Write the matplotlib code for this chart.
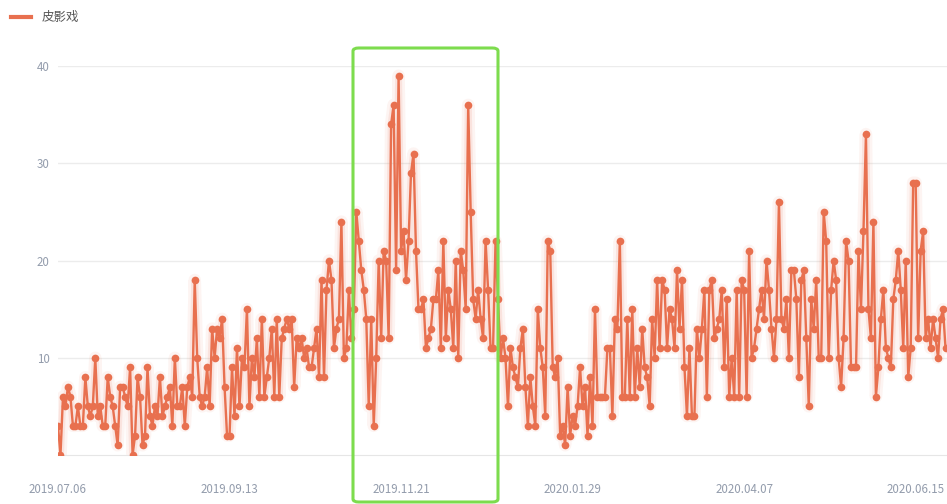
import matplotlib
matplotlib.use("Agg")
import matplotlib.pyplot as plt
from matplotlib.patches import FancyBboxPatch
import numpy as np
import pandas as pd

plt.rcParams['font.family'] = ['Noto Sans CJK SC', 'DejaVu Sans']

# daily counts starting 2019-07-06
series_name = "皮影戏"
start_date = "2019-07-06"
values = [
    3, 0, 6, 5, 7, 6, 3, 3, 5, 3,
    3, 8, 5, 4, 5, 10, 4, 5, 3, 3,
    8, 6, 5, 3, 1, 7, 7, 6, 5, 9,
    0, 2, 8, 6, 1, 2, 9, 4, 3, 5,
    4, 8, 4, 5, 6, 7, 3, 10, 5, 5,
    7, 3, 7, 8, 6, 18, 10, 6, 5, 6,
    9, 5, 13, 10, 13, 12, 14, 7, 2, 2,
    9, 4, 11, 5, 10, 9, 15, 5, 10, 8,
    12, 6, 14, 6, 8, 10, 13, 6, 14, 6,
    12, 13, 14, 13, 14, 7, 12, 11, 12, 10,
    11, 9, 9, 11, 13, 8, 18, 8, 17, 20,
    18, 11, 13, 14, 24, 10, 11, 17, 12, 15,
    25, 22, 19, 17, 14, 5, 14, 3, 10, 20,
    12, 21, 20, 12, 34, 36, 19, 39, 21, 23,
    18, 22, 29, 31, 21, 15, 15, 16, 11, 12,
    13, 16, 16, 19, 11, 22, 12, 17, 15, 11,
    20, 10, 21, 19, 15, 36, 25, 16, 14, 17,
    14, 12, 22, 17, 11, 11, 22, 16, 10, 12,
    10, 5, 11, 9, 8, 7, 11, 13, 7, 3,
    8, 5, 3, 15, 11, 9, 4, 22, 21, 9,
    8, 10, 2, 3, 1, 7, 2, 4, 3, 5,
    9, 5, 7, 2, 8, 3, 15, 6, 6, 6,
    6, 11, 11, 4, 14, 13, 22, 6, 6, 14,
    6, 15, 6, 11, 7, 13, 9, 8, 5, 14,
    10, 18, 11, 18, 17, 11, 15, 14, 11, 19,
    13, 18, 9, 4, 11, 4, 4, 13, 10, 13,
    17, 6, 17, 18, 12, 13, 14, 17, 9, 16,
    6, 10, 6, 17, 6, 18, 17, 6, 21, 10,
    11, 13, 15, 17, 14, 20, 17, 13, 10, 14,
    26, 14, 13, 16, 10, 19, 19, 16, 8, 18,
    19, 12, 5, 16, 13, 18, 10, 10, 25, 22,
    10, 17, 20, 18, 10, 7, 12, 22, 20, 9,
    9, 9, 21, 15, 23, 33, 15, 12, 24, 6,
    9, 14, 17, 11, 10, 9, 16, 18, 21, 17,
    11, 20, 8, 11, 28, 28, 12, 21, 23, 12,
    14, 11, 14, 12, 10, 14, 15, 11,
]
tick_labels = ["2019.07.06", "2019.09.13", "2019.11.21",
               "2020.01.29", "2020.04.07", "2020.06.15"]
y_ticks = [10, 20, 30, 40]

dates = pd.date_range(start_date, periods=len(values), freq="D")
day_idx = np.arange(len(values))
date_str = dates.strftime("%Y.%m.%d")
tick_pos = [int(np.where(date_str == t)[0][0]) for t in tick_labels]

line_color = "#e8704f"
label_color = "#939cac"

fig = plt.figure(figsize=(9.47, 5.04), dpi=100)
ax = fig.add_axes([58 / 947, 1 - 455 / 504, 1 - 58 / 947, (455 - 66) / 504])

# soft glow under the line
ax.plot(day_idx, values, color=line_color, lw=9, alpha=0.07, solid_capstyle="round", zorder=2)
ax.plot(day_idx, values, color=line_color, lw=5, alpha=0.12, solid_capstyle="round", zorder=2)
ax.plot(day_idx, values, color=line_color, lw=1.7, marker="o", ms=5.5,
        markeredgewidth=0, zorder=3, label=series_name)

ax.set_xlim(0, 357.6)
ax.set_ylim(0, 40)
ax.set_yticks(y_ticks)
ax.set_xticks(tick_pos)
ax.set_xticklabels(tick_labels)
ax.grid(axis="y", color="#ececec", lw=1)
ax.set_axisbelow(True)
for s in ["top", "right", "left"]:
    ax.spines[s].set_visible(False)
ax.spines["bottom"].set_color("#e6e6e6")
ax.tick_params(axis="both", length=0, colors=label_color, labelsize=8.3)
ax.tick_params(axis="x", pad=20)
ax.tick_params(axis="y", pad=6)

fig.legend(loc="upper left", bbox_to_anchor=(0.0, 1.0), frameon=False,
           handlelength=1.6, fontsize=9, labelcolor="#555555",
           handletextpad=0.8)
leg = fig.legends[0]
for h in leg.legend_handles:
    h.set_marker("")
    h.set_linewidth(3)

# green highlight box
box = FancyBboxPatch((353 / 947, 1 - 502 / 504), (498 - 353) / 947, (502 - 48) / 504,
                     boxstyle="round,pad=0,rounding_size=0.006",
                     transform=fig.transFigure, fill=False,
                     edgecolor="#7ddc4e", lw=2.2, clip_on=False, zorder=10)
fig.patches.append(box)

fig.savefig("out.png", dpi=100)
